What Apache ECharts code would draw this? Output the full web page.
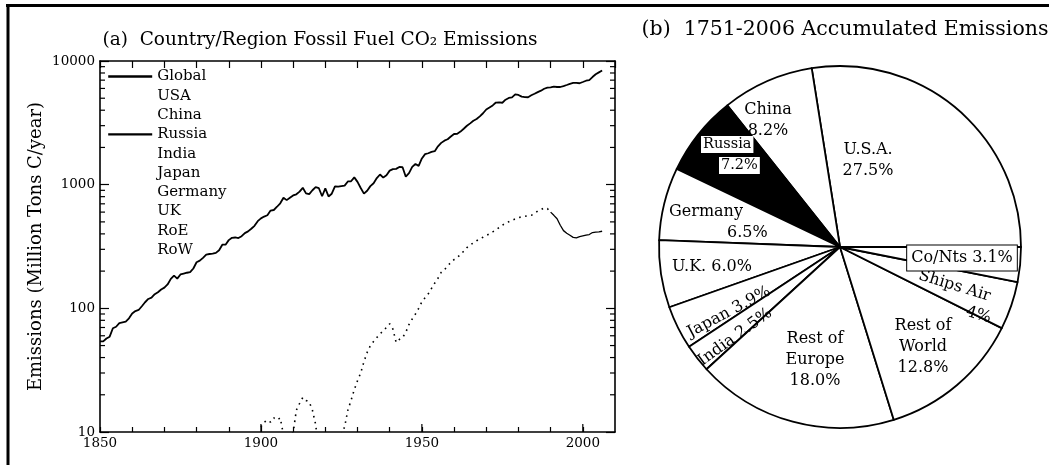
<!DOCTYPE html>
<html><head><meta charset="utf-8">
<script src="https://cdn.jsdelivr.net/npm/echarts@6/dist/echarts.min.js"></script>
<style>html,body{margin:0;padding:0;background:#fff}#c{width:1049px;height:465px}</style>
</head><body><div id="c"></div>
<script>
// ---------- data ----------
const globalStartYear = 1850;
const globalValues = [
  54,54,57,59,69,71,76,77,78,83,
  91,95,97,104,112,119,122,130,135,142,
  147,156,173,184,174,188,191,194,196,210,
  236,243,256,272,275,277,281,295,327,327,
  356,372,374,370,383,406,419,440,465,507,
  534,552,566,617,624,663,707,784,750,785,
  819,836,879,943,850,838,901,955,936,806,
  932,803,845,970,963,975,983,1062,1065,1145,
  1053,940,847,893,973,1027,1130,1209,1142,1192,
  1299,1334,1342,1391,1383,1160,1238,1392,1469,1419,
  1630,1767,1795,1841,1865,2043,2177,2270,2330,2454,
  2569,2580,2686,2833,2995,3130,3288,3393,3566,3780,
  4053,4208,4376,4614,4623,4596,4864,5026,5087,5369,
  5315,5152,5113,5094,5280,5439,5607,5752,5965,6097,
  6127,6217,6164,6162,6266,6398,6542,6651,6643,6610,
  6765,6927,6996,7416,7807,8093,8370
];
const russiaStartYear = 1900;
const russiaValues = [
  11,12,12.5,12,13,12.5,13,9.5,9,9.5,
  9.8,15,17,19,18,17.5,15,11.5,7,5,
  5,5,6,7,8,9.5,11,15,18,22,
  26,30,37,44,50,54,58,62,66,70,
  75,68,53,56,58,64,74,82,90,100,
  113,122,131,145,160,175,195,205,220,235,
  248,258,272,290,310,325,338,352,364,376,
  388,400,415,430,450,470,488,502,515,528,
  542,548,555,560,565,585,612,628,650,640,
  600,565,530,470,425,405,390,375,372,380,
  385,390,395,410,414,415,420
];
const russiaSolidFrom = 1990;
const legendNames = ['Global','USA','China','Russia','India','Japan','Germany','UK','RoE','RoW'];
const xLabelYears = [1850,1900,1950,2000];
const xMajorTickYears = [1900,1950,2000];
const yMinorTickValues = [20,30,40,50,60,70,80,90,200,300,400,500,600,700,800,900,2000,3000,4000,5000,6000,7000,8000,9000];

const pieNames = ['U.S.A.','China','Russia','Germany','U.K.','Japan','India','Rest of Europe','Rest of World','Ships/Air','Co/Nts'];
const pieValues = [27.5,8.2,7.2,6.5,6.0,3.9,2.5,18.0,12.8,4.3,3.1];
const pieLabels = [
  'U.S.A.\n27.5%',
  'China\n8.2%',
  '{w|Russia}\n{sp| }{w|7.2%}',
  'Germany\n{sg| }6.5%',
  'U.K. 6.0%',
  'Japan 3.9%',
  'India 2.5%',
  'Rest of\nEurope\n18.0%',
  'Rest of\nWorld\n12.8%',
  'Ships Air\n{s4| }4%',
  'Co/Nts 3.1%'
];

// ---------- layout / style ----------
const SERIF = '"DejaVu Serif", "Liberation Serif", serif';
const pieLabelLayout = [
  {x:868,y:160},
  {x:768,y:120},
  {x:701,y:155,a:'left'},
  {x:669,y:222,a:'left'},
  {x:712,y:267},
  {x:729,y:312,r:28},
  {x:735,y:337,r:36},
  {x:815,y:360},
  {x:923,y:347},
  {x:916,y:285,r:-17,a:'left'},
  {x:962,y:258}
];

const globalData = globalValues.map((v,i)=>[globalStartYear+i, v]);
const russiaData = russiaValues.map((v,i)=>[russiaStartYear+i, v]);
const russiaDotted = russiaData.filter(p=>p[0] <= russiaSolidFrom);
const russiaSolid = russiaData.filter(p=>p[0] >= russiaSolidFrom);

const chart = echarts.init(document.getElementById('c'), null, {renderer:'canvas'});

const blank = ['USA','China','India','Japan','Germany','UK','RoE','RoW'];
const xBase = {type:'value', min:1850, max:2010, gridIndex:0, interval:10};

const option = {
  animation:false,
  backgroundColor:'#fff',
  title:[
    {text:'(a)  Country/Region Fossil Fuel CO\u2082 Emissions', left:315, top:26, textAlign:'center',
     textStyle:{fontFamily:SERIF, fontSize:18.5, fontWeight:'normal', color:'#000'}},
    {text:'(b)  1751-2006 Accumulated Emissions', left:840, top:14, textAlign:'center',
     textStyle:{fontFamily:SERIF, fontSize:20.5, fontWeight:'normal', color:'#000'}}
  ],
  grid:{left:100, top:61, width:515, height:371, containLabel:false},
  legend:{
    orient:'vertical', left:107, top:67, itemWidth:44, itemHeight:19, itemGap:0.3,
    padding:0,
    textStyle:{fontFamily:SERIF, fontSize:15, color:'#000', lineHeight:19},
    data: legendNames.map(n => blank.includes(n)
      ? {name:n, lineStyle:{opacity:0}, itemStyle:{opacity:0}}
      : {name:n, lineStyle:{type:'solid', width:2.4, color:'#000', opacity:1}, itemStyle:{opacity:0}})
  },
  xAxis:[
    Object.assign({}, xBase, {position:'bottom',
      axisLine:{show:true, lineStyle:{color:'#000', width:1.6}},
      axisTick:{show:true, inside:true, length:5, lineStyle:{color:'#000', width:1.2}},
      axisLabel:{show:true, margin:4, fontFamily:SERIF, fontSize:13.5, color:'#000',
        showMaxLabel:false, formatter:v => xLabelYears.includes(v) ? String(v) : ''},
      splitLine:{show:false}}),
    Object.assign({}, xBase, {position:'top',
      axisLine:{show:true, lineStyle:{color:'#000', width:1.6}},
      axisTick:{show:true, inside:true, length:7, lineStyle:{color:'#000', width:1.2}},
      axisLabel:{show:false}, splitLine:{show:false}})
  ],
  yAxis:[
    {type:'log', logBase:10, min:10, max:10000, position:'left', gridIndex:0,
     name:'Emissions (Million Tons C/year)', nameLocation:'middle', nameGap:55, nameRotate:90,
     nameTextStyle:{fontFamily:SERIF, fontSize:18, color:'#000'},
     axisLine:{show:true, lineStyle:{color:'#000', width:1.6}},
     axisTick:{show:true, inside:true, length:9, lineStyle:{color:'#000', width:1.2}},
     axisLabel:{margin:5, fontFamily:SERIF, fontSize:13.5, color:'#000', formatter:v=>String(Math.round(v))},
     splitLine:{show:false}},
    {type:'log', logBase:10, min:10, max:10000, position:'right', gridIndex:0,
     axisLine:{show:true, lineStyle:{color:'#000', width:1.6}},
     axisTick:{show:true, inside:true, length:9, lineStyle:{color:'#000', width:1.2}},
     axisLabel:{show:false}, splitLine:{show:false}}
  ],
  graphic:[
    {type:'line', shape:{x1:6, y1:5.5, x2:1049, y2:5.5}, style:{stroke:'#000', lineWidth:3}, silent:true},
    {type:'line', shape:{x1:8, y1:4, x2:8, y2:465}, style:{stroke:'#000', lineWidth:3}, silent:true}
  ],
  series:[
    {name:'Global', type:'line', data:globalData, xAxisIndex:0, yAxisIndex:0,
     symbol:'none', lineStyle:{color:'#000', width:1.8}, itemStyle:{color:'#000'}, z:5},
    {name:'Russia', type:'line', data:russiaDotted, xAxisIndex:0, yAxisIndex:0,
     symbol:'none', lineStyle:{color:'#000', width:1.6, type:[1.6,4.5]}, itemStyle:{color:'#000'}, z:5},
    {name:'Russia', type:'line', data:russiaSolid, xAxisIndex:0, yAxisIndex:0,
     symbol:'none', lineStyle:{color:'#000', width:1.3}, itemStyle:{color:'#000'}, z:5},
    ...blank.map(n => ({name:n, type:'line', data:[], symbol:'none', lineStyle:{opacity:0}, itemStyle:{opacity:0}})),
    {type:'custom', name:'yMinorTicks', xAxisIndex:0, yAxisIndex:0, silent:true, clip:false, z:6,
     data: yMinorTickValues.map(v => [1850, v]),
     renderItem:(params, api) => {
       const v = api.value(1);
       const pL = api.coord([1850, v]);
       const pR = api.coord([2010, v]);
       return {type:'group', children:[
         {type:'line', shape:{x1:pL[0], y1:pL[1], x2:pL[0]+5, y2:pL[1]}, style:{stroke:'#000', lineWidth:1.2}},
         {type:'line', shape:{x1:pR[0], y1:pR[1], x2:pR[0]-5, y2:pR[1]}, style:{stroke:'#000', lineWidth:1.2}}
       ]};
     }},
    {type:'custom', name:'xMajorTicks', xAxisIndex:0, yAxisIndex:0, silent:true, clip:false, z:6,
     data: xMajorTickYears.map(y => [y, 10]),
     renderItem:(params, api) => {
       const p = api.coord([api.value(0), 10]);
       return {type:'line', shape:{x1:p[0], y1:p[1], x2:p[0], y2:p[1]-8}, style:{stroke:'#000', lineWidth:1.2}};
     }},
    {type:'pie', name:'Accumulated', center:[840,247], radius:181, startAngle:0, clockwise:false,
     minShowLabelAngle:0, avoidLabelOverlap:false,
     itemStyle:{borderColor:'#000', borderWidth:1.8},
     emphasis:{disabled:true},
     label:{show:true, position:'inside', color:'#000', fontFamily:SERIF, fontSize:16, lineHeight:21,
       formatter:p => pieLabels[p.dataIndex],
       rich:{
         w:{backgroundColor:'#fff', color:'#000', fontFamily:SERIF, fontSize:14.5, lineHeight:21, padding:[1,2]},
         sp:{width:18, fontSize:14.5, lineHeight:21},
         sg:{width:58, fontSize:16, lineHeight:21},
         s4:{width:56, fontSize:16, lineHeight:21}
       }},
     labelLine:{show:false},
     labelLayout: params => {
       const L = pieLabelLayout[params.dataIndex];
       return {x:L.x, y:L.y, rotate:L.r || 0, align:L.a || 'center', verticalAlign:'middle'};
     },
     data: pieNames.map((n,i) => {
       const d = {name:n, value:pieValues[i], itemStyle:{color: n === 'Russia' ? '#000' : '#fff'}};
       if (n === 'Co/Nts') d.label = {backgroundColor:'#fff', borderColor:'#000', borderWidth:1, padding:[2,4]};
       return d;
     })
    }
  ]
};
chart.setOption(option);
</script></body></html>
